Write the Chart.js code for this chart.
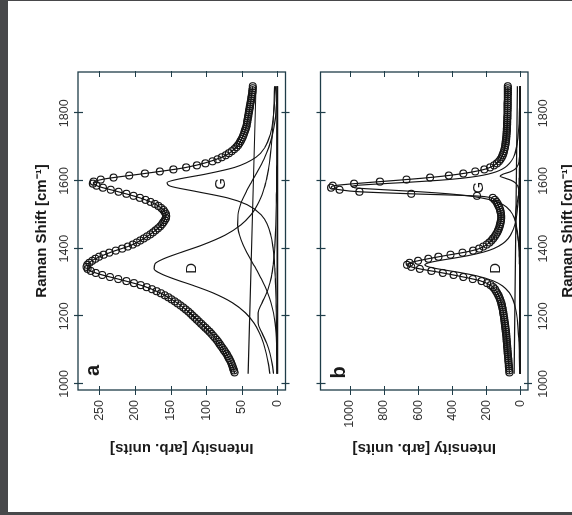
<!DOCTYPE html>
<html><head><meta charset="utf-8">
<script src="https://cdn.jsdelivr.net/npm/chart.js@4.4.1/dist/chart.umd.min.js"></script>
<style>
html,body{margin:0;padding:0;overflow:hidden;background:#fff;width:572px;height:515px;}
#rot{position:absolute;left:0;top:0;width:515px;height:593px;transform-origin:0 0;transform:translate(0px,515px) rotate(-90deg);}
#ca{position:absolute;left:0;top:0;}
#cb{position:absolute;left:0;top:303px;}
.fr{position:absolute;background:#47484a;z-index:5;}
</style></head><body>
<div id="rot"><canvas id="ca" width="515" height="303"></canvas><canvas id="cb" width="515" height="290"></canvas></div>
<div class="fr" style="left:0;top:0;width:8px;height:515px"></div>
<div class="fr" style="left:0;top:0;width:572px;height:1px"></div>
<div class="fr" style="left:0;top:512px;width:572px;height:3px"></div>
<script>
// ---- data ----
const ramanTicks = [1000, 1200, 1400, 1600, 1800];
const intensTicksA = [0, 50, 100, 150, 200, 250];
const intensTicksB = [0, 200, 400, 600, 800, 1000];

const ramanPts = [1034,1040,1046,1052,1058,1064,1070,1076,1082,1088,
1094,1100,1106,1112,1118,1124,1130,1136,1142,1148,
1154,1160,1166,1172,1178,1184,1190,1196,1202,1208,
1214,1220,1226,1232,1238,1244,1250,1256,1262,1268,
1274,1280,1286,1292,1298,1304,1310,1316,1322,1328,
1334,1340,1346,1352,1358,1364,1370,1376,1382,1388,
1394,1400,1406,1412,1418,1424,1430,1436,1442,1448,
1454,1460,1466,1472,1478,1484,1490,1496,1502,1508,
1514,1520,1526,1532,1538,1544,1550,1556,1562,1568,
1574,1580,1586,1592,1598,1604,1610,1616,1622,1628,
1634,1640,1646,1652,1658,1664,1670,1676,1682,1688,
1694,1700,1706,1712,1718,1724,1730,1736,1742,1748,
1754,1760,1766,1772,1778,1784,1790,1796,1802,1808,
1814,1820,1826,1832,1838,1844,1850,1856,1862,1868,
1874,1880];

const measuredA = [60,61,62,63,64,65,66.5,68,69.5,71,
73,75,77,79,81,83,85,87.5,90,92.5,
95,98,101,104,107,110,113,116,119,122,
125,128.5,132,136,140,144,148.5,153,158,163.5,
169.5,176,183.5,192,201.5,212,223.5,235,246,255,
262,266.5,268,267,264,260,255.5,250.5,244,236,
227,218,210,203,197.5,192.5,187.5,183,178.5,174.5,
171,167.5,164.5,162,160,158,156.5,156,156.5,158,
160,163,167,172,178,185,193,202,212,223,
234,245,254,259,258,248,230,208,186,165,
146,128,113,101,91,84,78,72.5,68,64,
60.5,57.5,55,53,51.5,50,48.5,47.5,46.5,45.5,
44.5,43.5,43,42.5,42,41.5,41,40.5,40,39.5,
39,38.5,38,37.5,37,36.5,36,35.5,35,35,
34.5,34.5];

const measuredB = [65,66,67,68,69,70,71,72,73,74,
75,76,77,78,79,80,81,82,83,84,
85.5,87,88.5,90,91.5,93,94.5,96,98,100,
102,104,106.5,109,112,115.5,119.5,124,129.5,136,
143,150,160,175,196,228,280,335,392,455,
522,590,640,665,650,600,540,481,410,340,
278,242,218,198,182,170,160,151,143,136,
131,126,122,119,116,114,113,113,114,116,
119,123,128,134,140,150,162,255,640,944,
1060,1110,1100,975,824,668,530,420,335,265,
212,178,155,138,126,117,110,104.5,100,96.5,
93.5,91,89,87,85.5,84,83,82,81,80,
79.5,79,78.5,78,77.5,77,76.5,76,76,75.5,
75.5,75,75,75,74.5,74.5,74.5,74,74,74,
74,74];

// fitted curves, panel a
const ramanFitA = [1030,1060,1090,1120,1150,1180,1210,1240,1270,1290,1310,1325,1340,1355,1370,1390,1410,1440,1470,1500,1530,1550,1570,1585,1595,1605,1620,1640,1670,1700,1740,1780,1830,1880];
const fitA = [59.5,64.3,71.7,81.7,93.3,108,123,141.3,165.5,189,223.5,250.5,266.5,265.5,255.5,233,205.3,180,163,156.3,170.3,193,226.7,252.5,258.5,245,193.3,128,78,57.5,46.8,41.8,37.7,34.5];
const bandDA = [10.5,12.6,15.5,19.4,24.9,32.8,44.7,63.1,91.5,116.8,144.7,162.8,173,171.8,159.6,133.6,106.1,73.1,51.2,37,27.7,23.2,19.7,17.5,16.3,15.1,13.7,12,10,8.45,6.9,5.7,4.6,3.8];
const bandGA = [0.7,0.79,0.9,1.0,1.15,1.3,1.5,1.8,2.1,2.4,2.8,3.1,3.5,3.9,4.4,5.3,6.5,9.2,13.8,22.7,42.6,70.3,116.9,150.9,155,139.7,101.1,60,29.9,17.2,9.6,6.1,3.9,2.7];
const bandD3A = [0.1,0.2,0.4,0.9,1.7,3.1,5.4,8.9,13.7,17.6,22.2,26,29.9,34,38,43.2,47.9,53.2,55.8,55.3,51.7,47.9,43.2,39.4,36.7,34,29.9,24.7,17.6,11.9,6.4,3.1,1.1,0.3];
const bandD4A = [5.3,7.3,10.3,14.9,21.3,27,27,21.3,14.9,11.6,9.1,7.7,6.5,5.6,4.8,4,3.4,2.7,2.2,1.8,1.5,1.35,1.2,1.1,1.1,1.0,0.96,0.88,0.77,0.69,0.59,0.51,0.44,0.38];
const baseXA = [1030, 1880], baseYA = [41, 30], zeroYA = [0, 0];

// fitted curves, panel b
const ramanFitB = [1030,1080,1130,1180,1220,1250,1270,1290,1305,1320,1330,1340,1346,1352,1358,1364,1372,1380,1390,1400,1415,1430,1450,1470,1490,1510,1530,1545,1555,1562,1568,1574,1580,1585,1590,1596,1602,1608,1614,1620,1627,1635,1645,1660,1680,1710,1750,1800,1850,1880];
const fitB = [64.5,72.7,81,92,104,119.5,138.3,170,236.7,373,477,590,640,665,650,600,520.3,433.7,319.3,242,190,160,134.3,120,113,117,132,152,240,640,944,1060,1110,1102,1017,874,720,576,457,363,277,206,159,123,101.5,87.5,79.8,76,74.5,74];
const bandDB = [4.8,6.7,10,16.5,27.5,44.6,66,106,162,262,364,483,538,560,538,483,388,299,215,157,103.5,72,48,34,25.2,19.5,15.5,13.2,12,11.2,10.6,10,9.5,9.1,8.8,8.3,8,7.6,7.2,6.9,6.6,6.2,5.8,5.3,4.6,3.9,3.2,2.5,2,1.8];
const bandGB = [1.06,1.28,1.58,2,2.45,2.9,3.3,3.76,4.2,4.7,5,5.5,5.7,6,6.4,6.7,7.2,7.8,8.6,9.6,11.3,13.7,18,24.8,36,57.5,103,183,292,424,590,800,973,988,869,657,473,341,252,191,143,107,78,52,33,19.7,11.5,6.8,4.5,3.7];
const bandD2B = [0.05,0.06,0.07,0.09,0.11,0.13,0.145,0.16,0.18,0.2,0.21,0.23,0.24,0.25,0.26,0.27,0.29,0.31,0.34,0.37,0.43,0.5,0.63,0.82,1.1,1.55,2.34,3.43,4.6,5.85,7.4,9.5,12.6,16.6,22.5,34.2,55.2,89.5,119,102,60,31.8,16.6,8,4,1.9,0.94,0.5,0.31,0.25];
const bandD3B = [0,0,0,0,0,0,0,0,0.1,0.1,0.2,0.3,0.47,0.7,0.92,1.25,1.86,2.7,4.1,5.9,9.7,14.6,21.8,27.7,30,27.7,21.8,16.4,12.9,10.6,8.9,7.3,5.9,4.9,4.1,3.2,2.4,1.9,1.4,1.0,0.7,0.45,0.2,0.05,0,0,0,0,0,0];
const baseXB = [1030, 1880], baseYB = [37, 18], zeroYB = [3, 3];

// ---- chart ----
Chart.defaults.font.family = "'Liberation Sans', Arial, Helvetica, sans-serif";
const pts = (xs, ys) => xs.map((x, i) => ({x: x, y: ys[i]}));
const INK = '#141414', AX = '#1f3d49';
const lineDs = (xs, ys, w) => ({data: pts(xs, ys), showLine: true, pointRadius: 0, borderColor: INK,
  borderWidth: w || 1.15, cubicInterpolationMode: 'monotone', fill: false});
const circleDs = (xs, ys) => ({data: pts(xs, ys), showLine: false, pointRadius: 3.5, pointHoverRadius: 3.5,
  borderWidth: 1.15, borderColor: '#161616', backgroundColor: 'rgba(0,0,0,0)'});

function framePlugin(xt, yt, labels) {
  return {
    id: 'frame',
    afterDraw(chart) {
      const {ctx, chartArea: a, scales: {x, y}} = chart;
      ctx.save();
      ctx.strokeStyle = AX; ctx.lineWidth = 1.3;
      ctx.strokeRect(a.left, a.top, a.right - a.left, a.bottom - a.top);
      ctx.beginPath();
      xt.forEach(v => { const p = Math.round(x.getPixelForValue(v)) + 0.5;
        ctx.moveTo(p, a.top - 4); ctx.lineTo(p, a.top + 5);
        ctx.moveTo(p, a.bottom - 4); ctx.lineTo(p, a.bottom + 4); });
      yt.forEach(v => { const p = Math.round(y.getPixelForValue(v)) + 0.5;
        ctx.moveTo(a.left - 5, p); ctx.lineTo(a.left + 4, p);
        ctx.moveTo(a.right - 5, p); ctx.lineTo(a.right + 1, p); });
      ctx.lineWidth = 1.2; ctx.stroke();
      ctx.fillStyle = '#1a1a1a'; ctx.textAlign = 'center'; ctx.textBaseline = 'alphabetic';
      labels.forEach(l => { ctx.font = l.font; ctx.fillText(l.text, x.getPixelForValue(l.x), y.getPixelForValue(l.y)); });
      ctx.restore();
    }
  };
}

function makeChart(id, cfg) {
  const xTitle = {display: true, text: 'Raman Shift [cm\u207B\u00B9]', color: '#1a1a1a',
    font: {size: 15, weight: 'bold'}, padding: cfg.xTitlePad};
  return new Chart(document.getElementById(id), {
    type: 'scatter',
    data: {datasets: cfg.datasets},
    options: {
      responsive: false, animation: false, devicePixelRatio: 1,
      layout: {padding: cfg.pad},
      plugins: {legend: {display: false}, tooltip: {enabled: false}},
      scales: {
        x: {type: 'linear', position: cfg.xPos, min: 982, max: 1922,
          afterBuildTicks: s => { s.ticks = ramanTicks.map(v => ({value: v})); },
          afterFit: s => { s.height = cfg.xH; },
          grid: {display: false, drawTicks: false}, border: {display: false},
          ticks: {padding: cfg.xTickPad, color: '#333', font: {size: 12.5}, maxRotation: 0, autoSkip: false,
            callback: v => String(v)},
          title: xTitle},
        y: {type: 'linear', position: 'left', min: cfg.yMin, max: cfg.yMax,
          afterBuildTicks: s => { s.ticks = cfg.yTicks.map(v => ({value: v})); },
          afterFit: s => { s.width = 125; },
          grid: {display: false, drawTicks: false}, border: {display: false},
          ticks: {padding: 10, color: '#333', font: {size: 12.5}, autoSkip: false, callback: v => String(v)},
          title: {display: true, text: 'Intensity [arb. units]', color: '#1a1a1a',
            font: {size: 15, weight: 'bold'}, padding: {top: 58, bottom: 0}}}
      }
    },
    plugins: [framePlugin(ramanTicks, cfg.yTicks, cfg.labels)]
  });
}

makeChart('ca', {
  xPos: 'top', xH: 78, xTickPad: 6, xTitlePad: {top: 33, bottom: 0},
  pad: {top: 0, left: 0, right: 72, bottom: 5},
  yMin: -11.5, yMax: 280, yTicks: intensTicksA,
  labels: [{text: 'a', x: 1040, y: 251, font: "bold 20px 'Liberation Sans', Arial"},
           {text: 'D', x: 1342, y: 114, font: "15px 'Liberation Sans', Arial"},
           {text: 'G', x: 1591, y: 74, font: "15px 'Liberation Sans', Arial"}],
  datasets: [
    lineDs(baseXA, zeroYA, 1.8),
    lineDs(baseXA, baseYA),
    lineDs(ramanFitA, bandD4A),
    lineDs(ramanFitA, bandD3A),
    lineDs(ramanFitA, bandGA),
    lineDs(ramanFitA, bandDA),
    lineDs(ramanFitA, fitA, 1.2),
    circleDs(ramanPts, measuredA)
  ]
});

makeChart('cb', {
  xPos: 'bottom', xH: 65, xTickPad: 8, xTitlePad: {top: 0, bottom: 16.5},
  pad: {top: 6, left: 0, right: 72, bottom: 0},
  yMin: -44, yMax: 1172, yTicks: intensTicksB,
  labels: [{text: 'b', x: 1034, y: 1028, font: "bold 20px 'Liberation Sans', Arial"},
           {text: 'D', x: 1342, y: 120, font: "15px 'Liberation Sans', Arial"},
           {text: 'G', x: 1580, y: 222, font: "15px 'Liberation Sans', Arial"}],
  datasets: [
    lineDs(baseXB, zeroYB, 1.8),
    lineDs(baseXB, baseYB),
    lineDs(ramanFitB, bandD3B),
    lineDs(ramanFitB, bandD2B),
    lineDs(ramanFitB, bandGB),
    lineDs(ramanFitB, bandDB),
    lineDs(ramanFitB, fitB, 1.2),
    circleDs(ramanPts, measuredB)
  ]
});
</script>
</body></html>
